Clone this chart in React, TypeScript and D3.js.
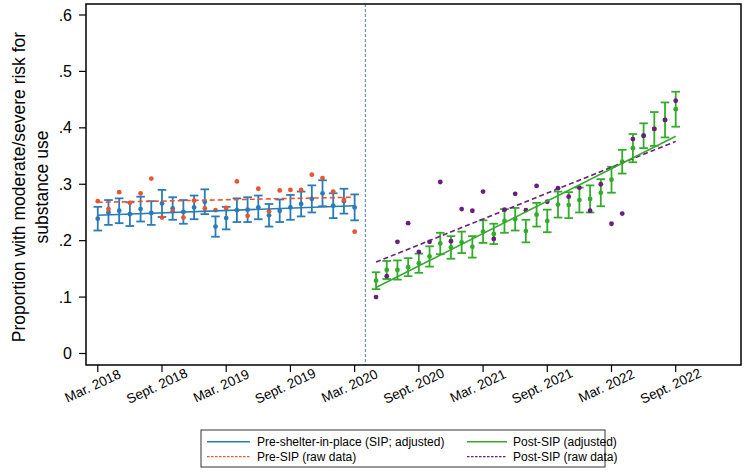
import React from 'react';
import * as d3 from 'd3';

// Month index: 0 = Mar. 2018
const xTickMonths = [0, 6, 12, 18, 24, 30, 36, 42, 48, 54];
const xTickLabels = ['Mar. 2018', 'Sept. 2018', 'Mar. 2019', 'Sept. 2019', 'Mar. 2020', 'Sept. 2020', 'Mar. 2021', 'Sept. 2021', 'Mar. 2022', 'Sept. 2022'];
const yTicks = [0, 0.1, 0.2, 0.3, 0.4, 0.5, 0.6];
const yTickLabels = ['0', '.1', '.2', '.3', '.4', '.5', '.6'];

const sipMonth = 25;

const preStart = 0;
const preAdjusted = [0.239, 0.250, 0.253, 0.247, 0.256, 0.249, 0.266, 0.257, 0.251, 0.259, 0.269, 0.225, 0.240, 0.254, 0.255, 0.259, 0.245, 0.253, 0.259, 0.265, 0.274, 0.284, 0.262, 0.270, 0.259];
const preCIHalf = [0.021, 0.022, 0.022, 0.021, 0.022, 0.021, 0.024, 0.020, 0.021, 0.021, 0.022, 0.018, 0.020, 0.021, 0.022, 0.021, 0.020, 0.020, 0.022, 0.022, 0.024, 0.023, 0.022, 0.022, 0.023];
const preRaw = [0.270, 0.256, 0.286, 0.267, 0.284, 0.310, 0.241, 0.252, 0.241, 0.271, 0.257, 0.254, 0.258, 0.305, 0.244, 0.292, 0.252, 0.289, 0.290, 0.290, 0.317, 0.311, 0.287, 0.272, 0.216];

const postStart = 26;
const postAdjusted = [0.129, 0.148, 0.148, 0.153, 0.160, 0.172, 0.195, 0.188, 0.197, 0.189, 0.216, 0.212, 0.235, 0.238, 0.217, 0.246, 0.235, 0.264, 0.263, 0.272, 0.274, 0.285, 0.308, 0.340, 0.364, 0.386, 0.398, 0.414, 0.433];
const postCIHalf = [0.015, 0.016, 0.017, 0.016, 0.017, 0.018, 0.019, 0.020, 0.019, 0.019, 0.020, 0.018, 0.021, 0.020, 0.020, 0.021, 0.020, 0.023, 0.023, 0.022, 0.024, 0.024, 0.023, 0.021, 0.025, 0.022, 0.030, 0.031, 0.031];
const postRaw = [0.100, 0.137, 0.198, 0.231, 0.180, 0.198, 0.304, 0.199, 0.256, 0.253, 0.287, 0.203, 0.255, 0.283, 0.254, 0.297, 0.269, 0.293, 0.278, 0.294, 0.253, 0.300, 0.230, 0.248, 0.380, 0.386, 0.398, 0.414, 0.448];

const preFitMonths = [0, 24];
const preFitAdjusted = [0.245, 0.262];
const preFitRaw = [0.268, 0.277];
const postFitMonths = [26, 54];
const postFitAdjusted = [0.117, 0.385];
const postFitRaw = [0.162, 0.376];

const legendLabels = ['Pre-shelter-in-place (SIP; adjusted)', 'Pre-SIP (raw data)', 'Post-SIP (adjusted)', 'Post-SIP (raw data)'];

const BLUE = '#2a7bb8';
const RED = '#e8552f';
const GREEN = '#35ab2c';
const PURPLE = '#6a1d7c';
const FONT = '"Liberation Sans", Arial, Helvetica, sans-serif';

const W = 753;
const H = 472;
const L = 86, R = 741, T = 4, B = 365;

export default function App() {
  const x = d3.scaleLinear().domain([-1.1, 60.1]).range([L, R]);
  const y = d3.scaleLinear().domain([0, 0.6]).range([353.5, 15]);
  const line = d3.line<[number, number]>().x(d => x(d[0])).y(d => y(d[1]));

  const capW = 4.3;

  const renderCI = (vals: number[], half: number[], start: number, color: string, key: string) =>
    vals.map((v, i) => {
      const cx = x(start + i);
      const y0 = y(v - half[i]);
      const y1 = y(v + half[i]);
      return (
        <g key={key + i} stroke={color} strokeWidth={1.8} fill="none">
          <line x1={cx} x2={cx} y1={y0} y2={y1} />
          <line x1={cx - capW} x2={cx + capW} y1={y0} y2={y0} />
          <line x1={cx - capW} x2={cx + capW} y1={y1} y2={y1} />
        </g>
      );
    });

  const renderPts = (vals: number[], start: number, color: string, key: string, r = 2.4) =>
    vals.map((v, i) => <circle key={key + i} cx={x(start + i)} cy={y(v)} r={r} fill={color} />);

  const fit = (ms: number[], vs: number[]) => line(ms.map((m, i) => [m, vs[i]] as [number, number])) || '';

  const lgX = 201, lgY = 430, lgW = 404, lgH = 37;
  const row1 = 441.7, row2 = 456.7;
  const col1 = 207, col2 = 467;

  return (
    <svg width={W} height={H} style={{ position: 'absolute', left: 0, top: 0, background: '#fff' }} fontFamily={FONT}>
      <rect x={0} y={0} width={W} height={H} fill="#fff" />
      {/* SIP marker */}
      <line x1={x(sipMonth)} x2={x(sipMonth)} y1={T} y2={B} stroke="#4f7dbd" strokeWidth={1} strokeDasharray="3,2" />

      {/* Pre period */}
      {renderCI(preAdjusted, preCIHalf, preStart, BLUE, 'pci')}
      {renderPts(preAdjusted, preStart, BLUE, 'pa')}
      {renderPts(preRaw, preStart, RED, 'pr')}
      <path d={fit(preFitMonths, preFitRaw)} stroke={RED} strokeWidth={1.6} strokeDasharray="5,3" fill="none" />
      <path d={fit(preFitMonths, preFitAdjusted)} stroke={BLUE} strokeWidth={1.6} fill="none" />

      {/* Post period */}
      {renderCI(postAdjusted, postCIHalf, postStart, GREEN, 'qci')}
      {renderPts(postAdjusted, postStart, GREEN, 'qa')}
      {renderPts(postRaw, postStart, PURPLE, 'qr')}
      <path d={fit(postFitMonths, postFitRaw)} stroke={PURPLE} strokeWidth={1.6} strokeDasharray="5,3" fill="none" />
      <path d={fit(postFitMonths, postFitAdjusted)} stroke={GREEN} strokeWidth={1.6} fill="none" />

      {/* Frame */}
      <rect x={L} y={T} width={R - L} height={B - T} fill="none" stroke="#000" strokeWidth={1.5} />

      {/* Y axis */}
      {yTicks.map((t, i) => (
        <g key={'yt' + i}>
          <line x1={L - 7} x2={L} y1={y(t)} y2={y(t)} stroke="#000" strokeWidth={1.2} />
          <text x={72} y={y(t)} textAnchor="end" dominantBaseline="central" fontSize={16} fill="#000">{yTickLabels[i]}</text>
        </g>
      ))}
      <text transform="translate(24.5,187) rotate(-90)" textAnchor="middle" fontSize={17.5} fill="#000">Proportion with moderate/severe risk for</text>
      <text transform="translate(48,187) rotate(-90)" textAnchor="middle" fontSize={17.5} fill="#000">substance use</text>

      {/* X axis */}
      {xTickMonths.map((m, i) => (
        <g key={'xt' + i}>
          <line x1={x(m)} x2={x(m)} y1={B} y2={B + 7} stroke="#000" strokeWidth={1.2} />
          <text transform={`translate(${x(m) - 5},386) rotate(-25)`} textAnchor="middle" dominantBaseline="central" fontSize={13.5} fill="#000">{xTickLabels[i]}</text>
        </g>
      ))}

      {/* Legend */}
      <rect x={lgX} y={lgY} width={lgW} height={lgH} fill="#fff" stroke="#333" strokeWidth={1} />
      <line x1={col1} x2={col1 + 43} y1={row1} y2={row1} stroke={BLUE} strokeWidth={1.4} />
      <text x={col1 + 50} y={row1} dominantBaseline="central" fontSize={12}>{legendLabels[0]}</text>
      <line x1={col1} x2={col1 + 43} y1={row2} y2={row2} stroke={RED} strokeWidth={1.2} strokeDasharray="2.5,1.5" />
      <text x={col1 + 50} y={row2} dominantBaseline="central" fontSize={12}>{legendLabels[1]}</text>
      <line x1={col2} x2={col2 + 40} y1={row1} y2={row1} stroke={GREEN} strokeWidth={1.4} />
      <text x={col2 + 46} y={row1} dominantBaseline="central" fontSize={12}>{legendLabels[2]}</text>
      <line x1={col2} x2={col2 + 40} y1={row2} y2={row2} stroke={PURPLE} strokeWidth={1.2} strokeDasharray="2.5,1.5" />
      <text x={col2 + 46} y={row2} dominantBaseline="central" fontSize={12}>{legendLabels[3]}</text>
    </svg>
  );
}
